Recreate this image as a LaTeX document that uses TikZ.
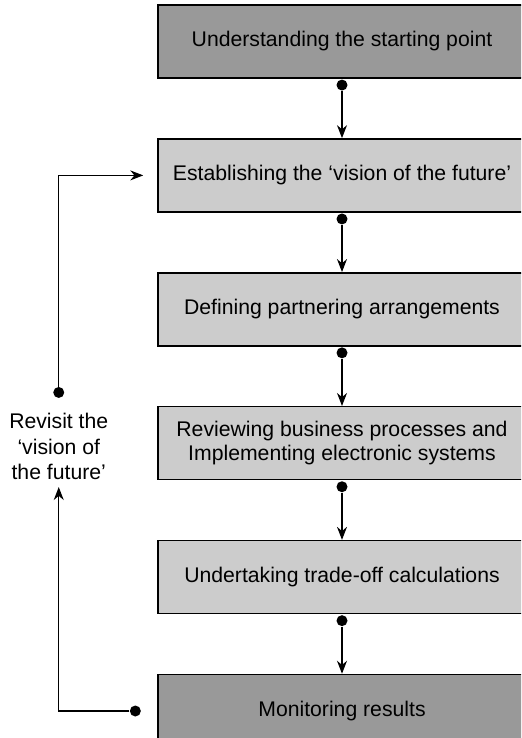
\documentclass[tikz,border=0pt]{standalone}
\usepackage{fontspec}
\setmainfont{Liberation Sans}
\usetikzlibrary{positioning, arrows.meta, calc}

\begin{document}
\begin{tikzpicture}[
        node distance = 29.7pt,
        box/.style      = {draw, line width=0.75pt, rectangle, minimum width=184pt, minimum height=36.5pt, align=center, font=\fontsize{10.6}{11.7}\selectfont},
        darkbox/.style  = {box, fill=black!40},
        lightbox/.style = {box, fill=black!20},
        dot/.style      = {circle, fill=black, inner sep=0pt, minimum size=5.5pt},
        note/.style     = {align=center, font=\fontsize{10.6}{12.75}\selectfont},
        arrow/.style    = {-{Stealth[length=6.5pt, width=5pt]}, line width=0.6pt},
    ]
        \clip (-171pt,20.75pt) rectangle (89.5pt,-348.25pt);

        \node[darkbox] (start) {Understanding the starting point};
        \node[lightbox, below=of start] (vision) {Establishing the ‘vision of the future’};
        \node[lightbox, below=of vision] (partner) {Defining partnering arrangements};
        \node[lightbox, below=of partner] (review) {Reviewing business processes and\\Implementing electronic systems};
        \node[lightbox, below=of review] (tradeoff) {Undertaking trade-off calculations};
        \node[darkbox, below=of tradeoff] (monitor) {Monitoring results};

        \node[dot, below=0.2pt of start] (d1) {};
        \node[dot, below=0.2pt of vision] (d2) {};
        \node[dot, below=0.2pt of partner] (d3) {};
        \node[dot, below=0.2pt of review] (d4) {};
        \node[dot, below=0.2pt of tradeoff] (d5) {};

        \draw[arrow] (d1) -- (vision);
        \draw[arrow] (d2) -- (partner);
        \draw[arrow] (d3) -- (review);
        \draw[arrow] (d4) -- (tradeoff);
        \draw[arrow] (d5) -- (monitor);

        % feedback loop
        \node[note] (revisit) at ([xshift=-49.25pt, yshift=-1.75pt]review.west) {Revisit the\\‘vision of\\the future’};
        \node[dot, above=4pt of revisit] (dtop) {};
        \node[dot, left=8pt of monitor] (dbot) {};

        \draw[arrow] (dbot) -| (revisit);
        \draw[arrow, shorten >=7pt] (dtop) |- (vision);
    \end{tikzpicture}
\end{document}
